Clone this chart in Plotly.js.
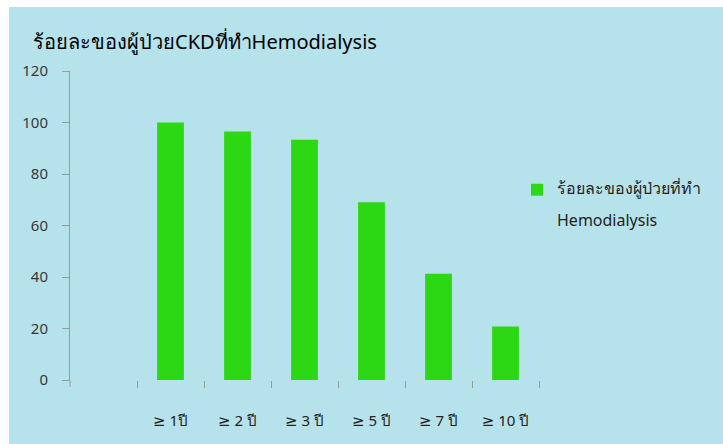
<!DOCTYPE html>
<html>
<head>
<meta charset="utf-8">
<script src="https://cdn.plot.ly/plotly-3.0.1.min.js"></script>
<style>
html,body{margin:0;padding:0;background:#ffffff;}
#chart{position:absolute;left:9px;top:7px;width:714px;height:437px;}
</style>
</head>
<body>
<div id="chart"></div>
<script>
const categories = ["≥ 1ปี", "≥ 2 ปี", "≥ 3 ปี", "≥ 5 ปี", "≥ 7 ปี", "≥ 10 ปี"];
const percentValues = [100, 96.5, 93.3, 69, 41.3, 20.8];
const seriesLine1 = "ร้อยละของผู้ป่วยที่ทำ";
const seriesLine2 = "Hemodialysis";
const chartTitle = "ร้อยละของผู้ป่วยCKDที่ทำHemodialysis";
const yTicks = [0, 20, 40, 60, 80, 100, 120];

const fontFam = "Tahoma, 'Noto Sans', 'DejaVu Sans', sans-serif";

const trace = {
  type: "bar",
  x: categories,
  y: percentValues,
  name: "<span style='font-size:16px'>" + seriesLine1 + "</span><br><br><span style='font-size:16px'>" + seriesLine2 + "</span>",
  marker: {color: "#2cd814"},
  width: 0.4,
  showlegend: true,
  hoverinfo: "x+y"
};

const layout = {
  width: 714,
  height: 437,
  paper_bgcolor: "#b6e2eb",
  plot_bgcolor: "rgba(0,0,0,0)",
  margin: {l: 61, r: 184, t: 64, b: 64},
  title: {
    text: chartTitle,
    font: {family: fontFam, size: 20, color: "#000000"},
    x: 24 / 714, xanchor: "left", xref: "container",
    y: 1 - 35 / 437, yanchor: "middle", yref: "container"
  },
  xaxis: {
    type: "category",
    range: [-1.5, 5.5],
    showline: false,
    showgrid: false,
    zeroline: false,
    ticks: "outside",
    tickson: "boundaries",
    ticklen: 7,
    tickcolor: "#9a9a9a",
    tickwidth: 1,
    tickfont: {family: fontFam, size: 15, color: "#222222"},
    ticklabelstandoff: 30
  },
  yaxis: {
    range: [0, 120],
    tickvals: yTicks,
    showline: true,
    linecolor: "#9a9a9a",
    linewidth: 1,
    showgrid: false,
    zeroline: false,
    ticks: "outside",
    ticklen: 7,
    tickcolor: "#9a9a9a",
    tickfont: {family: fontFam, size: 15, color: "#383838"},
    ticklabelstandoff: 11
  },
  shapes: [{
    type: "line", xref: "paper", yref: "paper",
    x0: 0, x1: 0, y0: 0, y1: -7 / 309,
    line: {color: "#9a9a9a", width: 1}
  }],
  legend: {
    x: (517 - 70) / 469, xanchor: "left",
    y: (380.5 - 176) / 309, yanchor: "top",
    bgcolor: "rgba(0,0,0,0)",
    font: {family: fontFam, size: 12, color: "#222222"},
    itemwidth: 30,
    valign: "top"
  },
  bargap: 0.6
};

Plotly.newPlot("chart", [trace], layout, {displayModeBar: false, staticPlot: true});
</script>
</body>
</html>
